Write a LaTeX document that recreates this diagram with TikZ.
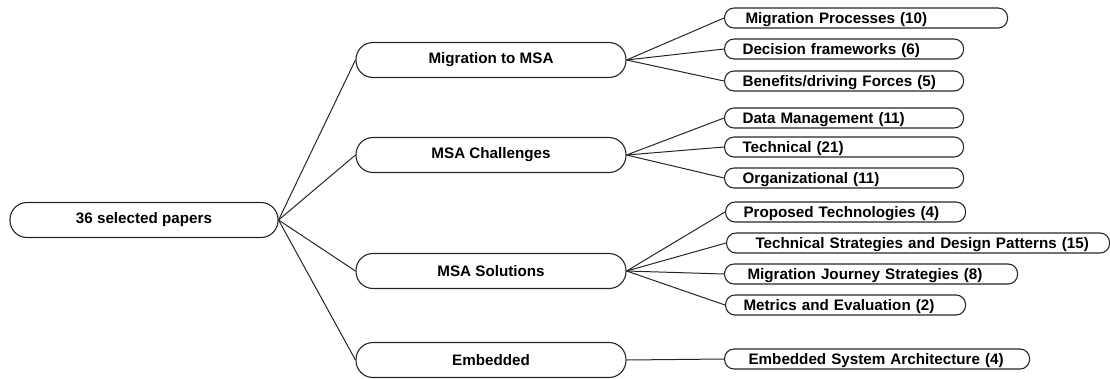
\documentclass[tikz,border=0pt]{standalone}
\usepackage{fontspec}
\setmainfont{Liberation Sans}
\usetikzlibrary{positioning}
\tikzset{
  box/.style={draw=black!85, line width=1.1pt, rounded corners=#1,
    font=\bfseries\fontsize{15.2}{17}\selectfont, inner sep=0pt},
  root/.style={box=17pt, minimum width=268pt, minimum height=35pt},
  cat/.style={box=17pt, minimum width=270pt, minimum height=35pt},
  leaf/.style={box=9.5pt, anchor=west, minimum height=20pt,
    text width=#1, align=left, inner xsep=18pt,
    text height=11pt, text depth=0.5pt},
  link/.style={draw=black!85, line width=1pt}
}
\begin{document}
\begin{tikzpicture}[x=1pt, y=-1pt]
  \useasboundingbox (0,0) rectangle (1110,378);
  % root and the four categories
  \node [root] (root) at (144,220) {36 selected papers};
  \node [cat] (mig) at (491,60) {Migration to MSA};
  \node [cat] (chal) at (491,155) {MSA Challenges};
  \node [cat] (sol) at (491,271) {MSA Solutions};
  \node [cat] (emb) at (491,360) {Embedded};
  % leaves
  \node [leaf=247pt] (proc) at (724,18) {\hspace*{3pt}Migration Processes (10)};
  \node [leaf=203pt] (dec) at (724,49) {Decision frameworks (6)};
  \node [leaf=203pt] (ben) at (724,81) {Benefits/driving Forces (5)};
  \node [leaf=203pt] (data) at (724,118) {Data Management (11)};
  \node [leaf=203pt] (tech) at (724,147) {Technical (21)};
  \node [leaf=203pt] (org) at (724,178) {Organizational (11)};
  \node [leaf=204pt] (prop) at (725,212) {Proposed Technologies (4)};
  \node [leaf=347pt] (strat) at (726,243) {\hspace*{11pt}Technical Strategies and Design Patterns (15)};
  \node [leaf=257pt] (jour) at (724,274) {\hspace*{5pt}Migration Journey Strategies (8)};
  \node [leaf=204pt] (met) at (725,305) {Metrics and Evaluation (2)};
  \node [leaf=269pt] (sys) at (724,359) {\hspace*{6pt}Embedded System Architecture (4)};
  % connectors
  \foreach \c in {mig,chal,sol,emb}
    \draw [link] (root.east) -- (\c.west);
  \foreach \l in {proc,dec,ben}
    \draw [link] (mig.east) -- (\l.west);
  \foreach \l in {data,tech,org}
    \draw [link] (chal.east) -- (\l.west);
  \foreach \l in {prop,strat,jour,met}
    \draw [link] (sol.east) -- (\l.west);
  \draw [link] (emb.east) -- (sys.west);
\end{tikzpicture}
\end{document}
